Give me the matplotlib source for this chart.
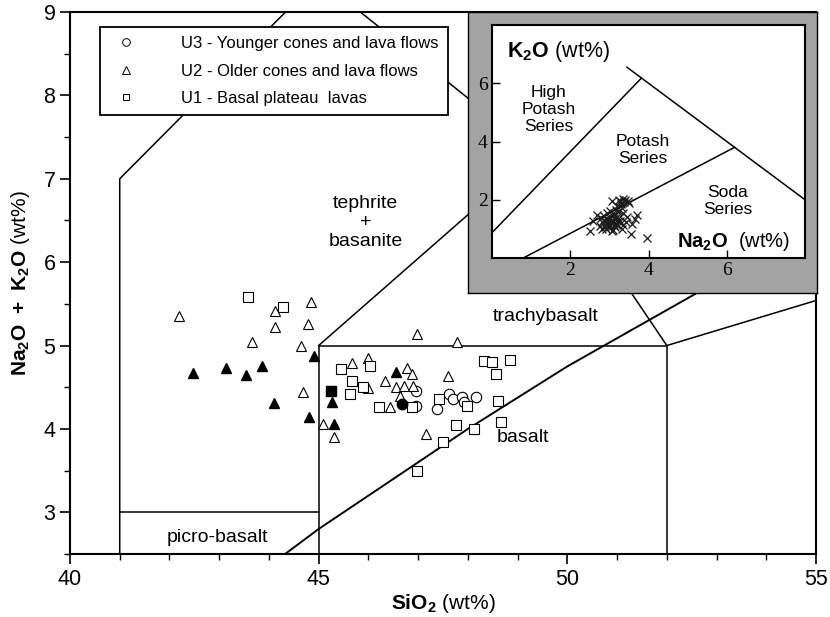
import numpy as np
import matplotlib
matplotlib.use('Agg')
import matplotlib.pyplot as plt
from matplotlib.lines import Line2D

plt.rcParams['font.family'] = ['Liberation Sans', 'DejaVu Sans']
plt.rcParams['mathtext.fontset'] = 'custom'
plt.rcParams['mathtext.rm'] = 'Liberation Sans'
plt.rcParams['mathtext.bf'] = 'Liberation Sans:bold'

# total alkali vs silica, by unit
u3_sio2 = [46.95, 46.95, 47.37, 47.62, 47.71, 47.89, 47.92, 48.17]
u3_alk = [4.46, 4.27, 4.24, 4.42, 4.36, 4.38, 4.32, 4.38]

u2_sio2 = [42.19, 44.85, 44.13, 44.13, 44.78, 43.66, 44.64, 44.68, 45.08, 45.30,
           45.68, 46.00, 46.00, 46.43, 46.34, 46.78, 46.56, 46.71, 46.88, 46.90,
           46.63, 46.97, 47.78, 47.60, 47.16]
u2_alk = [5.36, 5.52, 5.42, 5.22, 5.26, 5.04, 5.00, 4.44, 4.06, 3.90,
          4.79, 4.85, 4.49, 4.26, 4.58, 4.73, 4.50, 4.52, 4.66, 4.52,
          4.40, 5.14, 5.04, 4.63, 3.94]

u1_sio2 = [43.58, 44.29, 45.44, 46.03, 45.68, 45.62, 45.90, 46.21, 46.88, 47.42,
           47.99, 48.32, 48.48, 48.84, 48.56, 48.61, 47.77, 48.13, 48.67, 47.50,
           46.97]
u1_alk = [5.58, 5.46, 4.72, 4.76, 4.58, 4.42, 4.50, 4.26, 4.26, 4.36,
          4.28, 4.82, 4.80, 4.83, 4.66, 4.34, 4.05, 4.00, 4.08, 3.84,
          3.50]

# solid symbols
tri_f_sio2 = [42.47, 43.13, 43.53, 43.86, 44.11, 44.91, 44.81, 45.27, 45.30, 46.56]
tri_f_alk = [4.67, 4.73, 4.65, 4.76, 4.31, 4.88, 4.14, 4.32, 4.06, 4.68]
sq_f_sio2 = [45.25]
sq_f_alk = [4.46]
ci_f_sio2 = [46.68]
ci_f_alk = [4.30]

# K2O vs Na2O (inset)
na2o = [3.95, 3.55, 3.06, 2.51, 3.66, 3.70, 3.57, 3.06, 3.40, 3.27, 3.49, 3.19, 2.68, 2.59,
        2.75, 2.82, 2.88, 2.95, 3.02, 3.08, 3.15, 3.22, 3.30, 3.36,
        2.78, 2.86, 2.93, 3.00, 3.07, 3.13, 3.20, 3.28, 3.35, 3.45,
        2.80, 2.90, 2.97, 3.04, 3.10, 3.18, 3.25, 3.33,
        2.85, 2.95, 3.02, 3.12, 3.22, 3.32, 3.42,
        2.92, 3.00, 3.10, 3.17, 3.30, 3.38, 3.48, 3.35, 3.24, 3.12]
k2o = [0.68, 0.82, 0.93, 0.93, 1.33, 1.49, 1.16, 1.97, 2.00, 1.95, 1.89, 1.78, 1.49, 1.27,
       1.10, 1.22, 1.05, 1.30, 1.15, 1.25, 1.08, 1.35, 1.20, 1.12,
       1.38, 1.45, 1.18, 1.40, 1.32, 1.50, 1.42, 1.28, 1.55, 1.40,
       1.00, 1.12, 1.33, 1.22, 1.45, 1.18, 1.60, 1.72,
       1.30, 1.55, 1.62, 1.38, 1.28, 1.00, 1.25,
       0.98, 1.05, 0.95, 1.65, 1.85, 1.92, 1.97, 2.02, 1.98, 1.15]

# TAS field boundaries (Le Bas et al.)
tas_fields = [
    [(41, 2.5), (41, 7), (45, 9.4)],
    [(41, 3), (45, 3)],
    [(45, 2.5), (45, 5), (52, 5), (52, 2.5)],
    [(45, 5), (49.4, 7.3), (52, 5), (57, 5.9)],
    [(45, 9.4), (49.4, 7.3), (53, 9.3)],
]
# alkaline / subalkaline divide (Irvine & Baragar)
ib_sio2 = [39.2, 40, 43.2, 45, 48, 50, 53.7, 57]
ib_alk = [0.0, 0.4, 2.0, 2.8, 4.0, 4.75, 6.0, 6.9]

# series boundaries in the inset
series_lines = [
    [(0, 0.87), (3.8, 6.15)],
    [(3.45, 6.55), (8, 2.0)],
    [(0.8, 0.0), (6.2, 3.8)],
]

fig = plt.figure(figsize=(8.3, 6.17), dpi=100)
ax = fig.add_axes([70/830, 63/617, 746/830, 542/617])

for seg in tas_fields:
    xs, ys = zip(*seg)
    ax.plot(xs, ys, color='k', lw=1.1, zorder=1)
ax.plot(ib_sio2, ib_alk, color='k', lw=1.4, zorder=1)

ms = 7.5
ax.plot(u3_sio2, u3_alk, 'o', ms=ms, mfc='white', mec='k', mew=0.8, zorder=3)
ax.plot(u2_sio2, u2_alk, '^', ms=ms, mfc='white', mec='k', mew=0.8, zorder=3)
ax.plot(u1_sio2, u1_alk, 's', ms=ms - 0.5, mfc='white', mec='k', mew=0.8, zorder=3)
ax.plot(tri_f_sio2, tri_f_alk, '^', ms=ms, mfc='k', mec='k', zorder=4)
ax.plot(sq_f_sio2, sq_f_alk, 's', ms=ms - 0.5, mfc='k', mec='k', zorder=4)
ax.plot(ci_f_sio2, ci_f_alk, 'o', ms=ms, mfc='k', mec='k', zorder=4)

ax.text(45.94, 6.48, 'tephrite\n+\nbasanite', ha='center', va='center',
        fontsize=14, linespacing=1.15)
ax.text(49.56, 5.35, 'trachybasalt', ha='center', va='center', fontsize=14)
ax.text(49.1, 3.9, 'basalt', ha='center', va='center', fontsize=14)
ax.text(42.96, 2.70, 'picro-basalt', ha='center', va='center', fontsize=14)

ax.set_xlim(40, 55)
ax.set_ylim(2.5, 9)
ax.set_xticks([40, 45, 50, 55])
ax.set_xticks(np.arange(40, 56, 1), minor=True)
ax.set_yticks([3, 4, 5, 6, 7, 8, 9])
ax.set_yticks(np.arange(2.5, 9.01, 0.5), minor=True)
ax.tick_params(which='major', direction='out', length=7, width=1.2, labelsize=15.5)
ax.tick_params(which='minor', direction='out', length=4, width=1.0)
for sp in ax.spines.values():
    sp.set_linewidth(1.5)
ax.set_xlabel(r'$\mathbf{SiO_2}$ (wt%)', fontsize=15, labelpad=2)
ax.set_ylabel(r'$\mathbf{Na_2O\ +\ K_2O}$ (wt%)', fontsize=15, labelpad=8)

handles = [
    Line2D([], [], ls='none', marker='o', ms=5.5, mfc='white', mec='k', mew=0.7),
    Line2D([], [], ls='none', marker='^', ms=5.5, mfc='white', mec='k', mew=0.7),
    Line2D([], [], ls='none', marker='s', ms=5, mfc='white', mec='k', mew=0.7),
]
labels = ['U3 - Younger cones and lava flows', 'U2 - Older cones and lava flows',
          'U1 - Basal plateau  lavas']
leg = ax.legend(handles, labels, loc='upper left', bbox_to_anchor=(100/830, 590/617),
                bbox_transform=fig.transFigure, borderaxespad=0, fontsize=12,
                fancybox=False, framealpha=1, edgecolor='k', handlelength=2,
                handletextpad=2.3, borderpad=0.55, labelspacing=0.75)
leg.get_frame().set_linewidth(1.3)
leg.set_zorder(10)

# grey mount behind the inset
frame = fig.add_axes([468/830, 324/617, 349/830, 281/617])
frame.set_facecolor('#a3a3a3')
frame.set_xticks([])
frame.set_yticks([])
for sp in frame.spines.values():
    sp.set_linewidth(1.0)

ins = fig.add_axes([492/830, 359/617, 313/830, 233/617])
for seg in series_lines:
    xs, ys = zip(*seg)
    ins.plot(xs, ys, color='k', lw=1.1)
ins.plot(na2o, k2o, 'x', ms=6, mec='#1a1a1a', mew=0.9)
ins.set_xlim(0, 8)
ins.set_ylim(0, 8)
ins.set_xticks([2, 4, 6])
ins.set_yticks([2, 4, 6])
ins.tick_params(direction='in', length=6, width=1.0, labelsize=14, pad=3)
for lab in ins.get_xticklabels() + ins.get_yticklabels():
    lab.set_family('Liberation Serif')
for sp in ins.spines.values():
    sp.set_linewidth(1.5)

ins.text(0.39, 7.1, r'$\mathbf{K_2O}$ (wt%)', fontsize=15.5, va='center')
ins.text(1.44, 5.1, 'High\nPotash\nSeries', ha='center', va='center',
         fontsize=12.5, linespacing=1.15)
ins.text(3.86, 3.71, 'Potash\nSeries', ha='center', va='center',
         fontsize=12.5, linespacing=1.15)
ins.text(6.03, 1.96, 'Soda\nSeries', ha='center', va='center',
         fontsize=12.5, linespacing=1.15)
ins.text(4.73, 0.55, r'$\mathbf{Na_2O}$  (wt%)', fontsize=14.5, va='center')

fig.savefig('out.png', dpi=100)
